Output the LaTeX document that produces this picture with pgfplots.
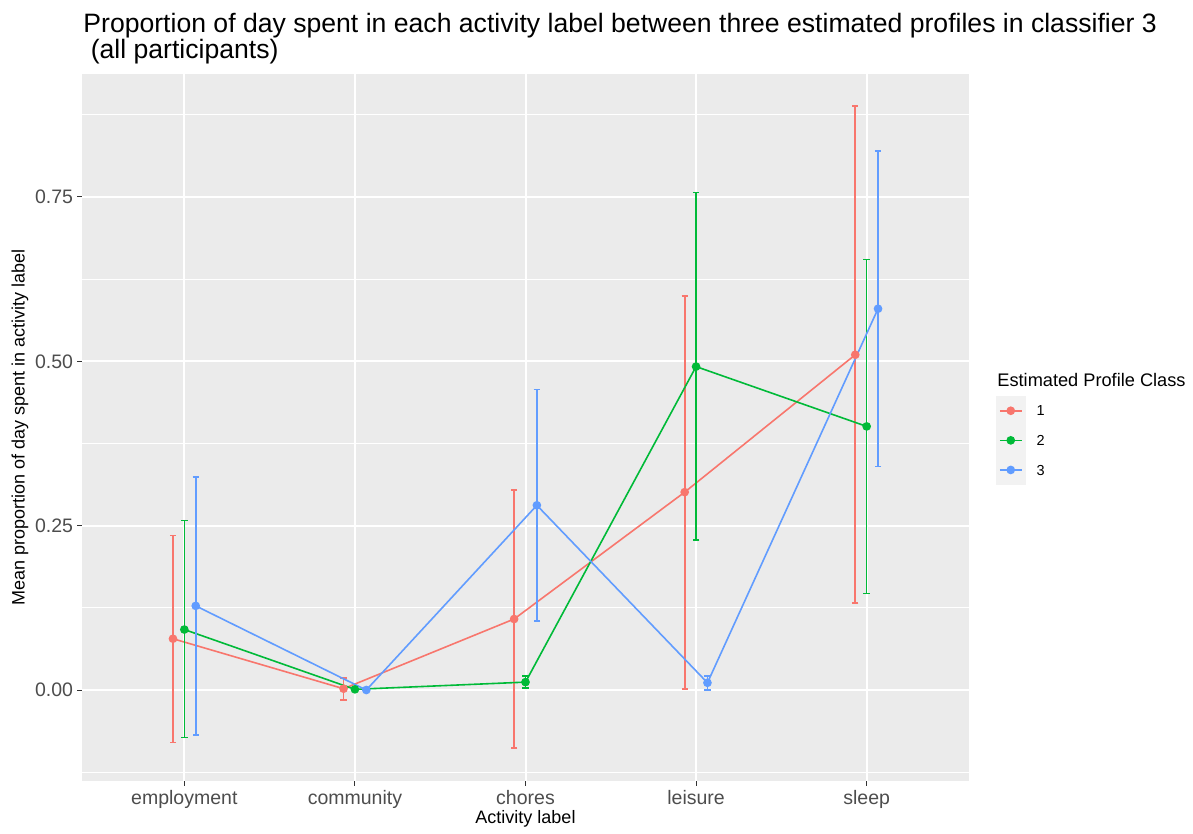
\documentclass[border=0pt]{standalone}
\usepackage{fontspec}
\setmainfont{Liberation Sans}
\usepackage{pgfplots}
\pgfplotsset{compat=1.18}
\usepackage{pgfplotstable}
\definecolor{c1}{HTML}{F8766D}
\definecolor{c2}{HTML}{00BA38}
\definecolor{c3}{HTML}{619CFF}
\definecolor{panelbg}{HTML}{EBEBEB}
\definecolor{keybg}{HTML}{F2F2F2}
\definecolor{grey20}{HTML}{333333}
\definecolor{grey30}{HTML}{4D4D4D}

% x = category position (1..5) with dodge offset; y = mean; lo/hi = error bar ends
\pgfplotstableread{
x y lo hi
0.9333 0.078 -0.080 0.235
1.9333 0.002 -0.015 0.018
2.9333 0.108 -0.088 0.304
3.9333 0.301 0.002 0.599
4.9333 0.510 0.132 0.888
}\classone
\pgfplotstableread{
x y lo hi
1 0.092 -0.072 0.258
2 0.001 0.000 0.002
3 0.012 0.003 0.021
4 0.492 0.228 0.757
5 0.401 0.147 0.655
}\classtwo
\pgfplotstableread{
x y lo hi
1.0667 0.128 -0.068 0.324
2.0667 0.000 0.000 0.001
3.0667 0.281 0.105 0.457
4.0667 0.011 0.000 0.021
5.0667 0.580 0.340 0.820
}\classthree

\pgfplotsset{
  series/.style={
    color=#1, line width=0.8pt, mark=*, mark size=1.75pt,
    mark options={solid, fill=#1},
    error bars/.cd, y dir=both, y explicit,
    error bar style={color=#1, line width=0.8pt},
    error mark=-,
    error mark options={color=#1, rotate=90, mark size=1.6pt, line width=0.8pt}
  }
}

\begin{document}
\begin{tikzpicture}
\useasboundingbox (0,0) rectangle (596.5pt,417pt);
\begin{axis}[
  at={(41pt,26.5pt)}, anchor=south west, scale only axis,
  width=443.5pt, height=353.5pt,
  xmin=0.4, xmax=5.6, ymin=-0.1384, ymax=0.9371,
  axis line style={draw=none},
  axis background/.style={fill=panelbg},
  xtick={1,2,3,4,5},
  xticklabels={employment,community,chores,leisure,sleep},
  ytick={0,0.25,0.5,0.75},
  yticklabels={0.00,0.25,0.50,0.75},
  minor ytick={-0.125,0.125,0.375,0.625,0.875},
  xmajorgrids, ymajorgrids, yminorgrids,
  major grid style={white, line width=1pt},
  minor grid style={white, line width=0.5pt},
  tick align=outside, major tick length=2.3pt, minor tick length=0pt,
  tick style={grey20, line width=0.5pt},
  xtick pos=bottom, ytick pos=left,
  /pgf/number format/assume math mode=true,
  xticklabel style={anchor=base, inner sep=0pt, yshift=-9.3pt,
    font=\fontsize{9.75}{11}\selectfont, text=grey30},
  yticklabel style={anchor=east, inner sep=0pt, xshift=-2pt,
    font=\fontsize{9.75}{11}\selectfont, text=grey30},
  legend image code/.code={
    \fill[keybg] (0pt,-7pt) rectangle (14pt,7pt);
    \draw[mark repeat=2, mark phase=2, #1] plot coordinates {(1.5pt,0pt) (7pt,0pt) (12.5pt,0pt)};
  },
  legend cell align=left,
  legend style={at={(1.0304,0.5446)}, anchor=north west, draw=none, fill=none,
    inner sep=0pt, outer sep=0pt, row sep=0pt, column sep=5.5pt,
    font=\fontsize{7.25}{8}\selectfont,
    nodes={inner sep=0pt, text depth=0pt}},
]
\addplot[series=c1] table[x=x, y=y,
  y error plus expr=\thisrow{hi}-\thisrow{y},
  y error minus expr=\thisrow{y}-\thisrow{lo}] {\classone};
\addlegendentry{1}
\addplot[series=c2] table[x=x, y=y,
  y error plus expr=\thisrow{hi}-\thisrow{y},
  y error minus expr=\thisrow{y}-\thisrow{lo}] {\classtwo};
\addlegendentry{2}
\addplot[series=c3] table[x=x, y=y,
  y error plus expr=\thisrow{hi}-\thisrow{y},
  y error minus expr=\thisrow{y}-\thisrow{lo}] {\classthree};
\addlegendentry{3}
\end{axis}
\node[anchor=base west, inner sep=0pt, font=\fontsize{13.3}{16}\selectfont] at (41.5pt,400.85pt)
  {Proportion of day spent in each activity label between three estimated profiles in classifier 3};
\node[anchor=base west, inner sep=0pt, font=\fontsize{13.3}{16}\selectfont] at (41.5pt,387.85pt)
  {\ (all participants)};
\node[rotate=90, anchor=center, inner sep=0pt, font=\fontsize{9}{11}\selectfont] at (10pt,203.25pt)
  {Mean proportion of day spent in activity label};
\node[anchor=base, inner sep=0pt, font=\fontsize{9}{11}\selectfont] at (262.75pt,5.35pt)
  {Activity label};
\node[anchor=base west, inner sep=0pt, font=\fontsize{9.1}{11}\selectfont] at (498.5pt,223.5pt)
  {Estimated Profile Class};
\end{tikzpicture}
\end{document}
